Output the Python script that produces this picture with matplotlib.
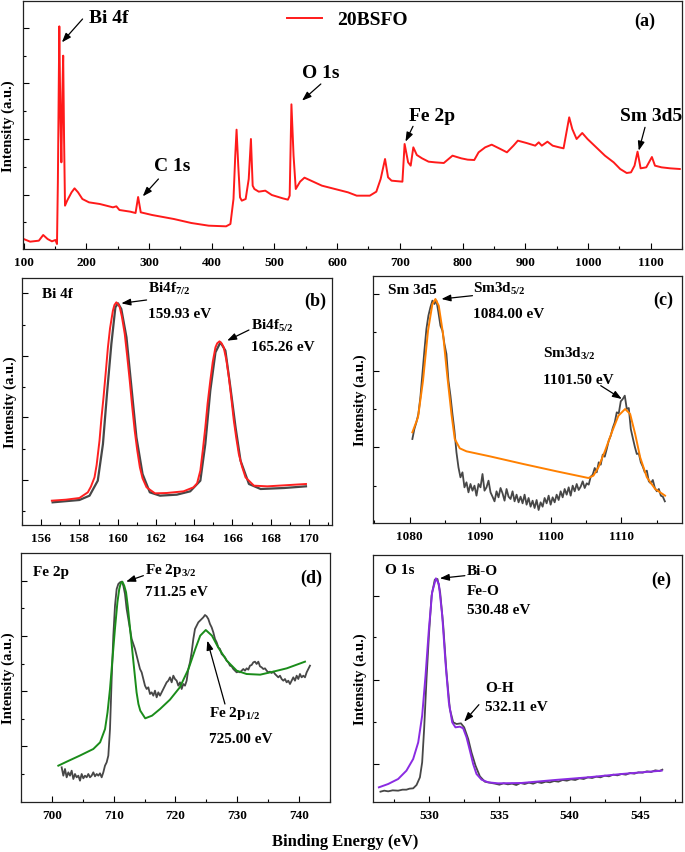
import numpy as np
import matplotlib
matplotlib.use('Agg')
import matplotlib.pyplot as plt
from matplotlib.ticker import MultipleLocator

plt.rcParams['font.family'] = ['Liberation Serif', 'DejaVu Serif']
plt.rcParams['font.weight'] = 'bold'
plt.rcParams['axes.labelweight'] = 'bold'
plt.rcParams['mathtext.fontset'] = 'custom'
plt.rcParams['mathtext.rm'] = 'Liberation Serif:bold'
plt.rcParams['mathtext.it'] = 'Liberation Serif:bold:italic'
plt.rcParams['mathtext.bf'] = 'Liberation Serif:bold'

# ---------------- data ----------------
# (a) survey spectrum
survey_energy = [100.0, 110.4, 124.3, 131.2, 138.2, 145.1, 150.7, 153.2, 154.6, 156.9,
                 158.6, 160.2, 161.8, 163.1, 164.5, 166.0, 169.4, 176.4, 181.2, 186.8,
                 193.7, 204.2, 221.5, 242.4, 247.9, 252.8, 270.1, 278.5, 282.6, 286.8,
                 304.9, 339.6, 367.4, 395.1, 422.9, 429.8, 434.7, 437.5, 439.6, 442.3,
                 445.1, 447.9, 454.1, 459.0, 462.5, 465.3, 468.0, 475.0, 485.4, 495.8,
                 513.2, 521.5, 524.3, 527.1, 530.5, 534.0, 540.9, 547.9, 561.8, 575.7,
                 596.5, 617.3, 631.2, 652.1, 662.5, 669.4, 676.4, 681.2, 686.8, 704.1,
                 707.6, 713.2, 717.3, 721.5, 727.1, 735.4, 745.8, 756.2, 770.1, 784.0,
                 797.9, 808.3, 818.7, 825.6, 836.1, 846.5, 860.4, 870.8, 881.2, 888.2,
                 902.0, 915.9, 921.5, 926.4, 935.4, 943.7, 954.1, 961.1, 966.7, 970.1,
                 975.0, 981.9, 990.9, 999.3, 1013.2, 1027.1, 1041.0, 1051.4, 1061.8, 1068.7,
                 1074.3, 1079.1, 1084.0, 1093.0, 1102.0, 1106.9, 1117.3, 1131.2, 1146.5]
survey_intensity = [30, 22, 25, 42, 30, 23, 27, 15, 200, 668,
                    400, 260, 470, 580, 330, 130, 145, 170, 182, 170,
                    150, 140, 135, 125, 128, 117, 112, 108, 156, 110,
                    102, 90, 78, 70, 68, 75, 150, 280, 358, 250,
                    155, 145, 150, 210, 330, 190, 180, 172, 175, 162,
                    152, 148, 160, 434, 280, 180, 202, 214, 202, 190,
                    180, 170, 160, 160, 172, 210, 270, 215, 205, 202,
                    315, 260, 250, 305, 282, 272, 262, 260, 258, 280,
                    272, 268, 267, 290, 305, 313, 300, 290, 310, 325,
                    318, 310, 320, 310, 322, 310, 305, 302, 360, 395,
                    360, 330, 348, 330, 305, 280, 260, 240, 228, 230,
                    250, 292, 242, 245, 276, 250, 245, 242, 240]

# (b) Bi 4f
bi_fit_energy = [156.56, 157.30, 158.00, 158.44, 158.60, 158.79, 158.90, 159.05, 159.15, 159.26,
                 159.38, 159.49, 159.60, 159.75, 159.83, 159.93, 160.02, 160.11, 160.22, 160.37,
                 160.50, 160.63, 160.75, 160.89, 161.02, 161.16, 161.30, 161.51, 161.95, 162.56,
                 163.44, 163.96, 164.15, 164.32, 164.45, 164.58, 164.70, 164.84, 164.97, 165.11,
                 165.20, 165.32, 165.43, 165.54, 165.68, 165.81, 165.94, 166.07, 166.20, 166.33,
                 166.50, 166.68, 167.12, 167.82, 168.70, 169.84]
bi_fit_intensity = [73, 76, 81, 98, 115, 143, 180, 253, 320, 383,
                    460, 533, 590, 643, 660, 668, 663, 653, 625, 573,
                    505, 433, 360, 283, 225, 173, 140, 113, 95, 96,
                    101, 113, 125, 163, 225, 293, 365, 433, 490, 533,
                    545, 551, 545, 533, 495, 443, 380, 313, 260, 213,
                    175, 143, 118, 116, 119, 123]
bi_exp_energy = [156.60, 158.00, 158.53, 158.96, 159.23, 159.44, 159.67, 159.88, 160.02, 160.19,
                 160.46, 160.72, 160.98, 161.30, 161.68, 162.21, 163.09, 163.79, 164.32, 164.58,
                 164.84, 165.11, 165.37, 165.63, 165.89, 166.16, 166.42, 166.86, 167.47, 168.70,
                 169.84]
bi_exp_intensity = [68, 75, 88, 133, 243, 393, 543, 653, 665, 648,
                    563, 413, 263, 153, 98, 88, 91, 101, 133, 243,
                    403, 518, 548, 523, 413, 293, 193, 123, 108, 111,
                    116]

# (c) Sm 3d
sm_fit_energy = [1080.38, 1081.18, 1081.89, 1082.60, 1083.22, 1083.65, 1084.12, 1084.73, 1085.30, 1085.92,
                 1086.39, 1087.10, 1088.05, 1091.36, 1096.10, 1100.83, 1105.33, 1106.04, 1106.75, 1107.70,
                 1108.65, 1109.59, 1110.54, 1111.25, 1111.96, 1112.67, 1113.62, 1114.80, 1116.20]
sm_fit_intensity = [272, 317, 427, 577, 657, 672, 652, 567, 447, 327,
                    252, 224, 215, 200, 177, 155, 135, 142, 167, 217,
                    272, 322, 342, 327, 267, 197, 137, 102, 82]
sm_exp_range = (1080.38, 1116.17)
sm_exp_intensity = [252, 282, 302, 327, 377, 447, 517, 582, 622, 647,
                    667, 657, 667, 632, 592, 577, 537, 507, 427, 382,
                    327, 277, 212, 167, 137, 152, 107, 122, 92, 117,
                    97, 112, 82, 117, 107, 147, 97, 107, 127, 92,
                    79, 65, 95, 77, 105, 89, 67, 102, 79, 72,
                    95, 65, 85, 62, 79, 59, 85, 55, 75, 49,
                    67, 45, 69, 39, 62, 49, 75, 59, 82, 55,
                    77, 62, 85, 69, 95, 77, 102, 85, 107, 82,
                    112, 95, 117, 99, 109, 125, 105, 119, 115, 139,
                    145, 165, 152, 182, 175, 205, 199, 222, 247, 262,
                    285, 302, 332, 329, 365, 372, 382, 342, 345, 282,
                    255, 229, 207, 209, 182, 169, 152, 157, 125, 119,
                    129, 105, 95, 102, 82, 79, 65]

# (d) Fe 2p
fe_fit_energy = [701.04, 702.40, 704.50, 706.70, 707.80, 708.60, 709.00, 709.40, 709.80, 710.20,
                 710.60, 710.90, 711.15, 711.40, 711.70, 712.00, 712.30, 712.60, 712.90, 713.20,
                 713.45, 713.70, 714.00, 714.30, 715.10, 716.20, 717.50, 719.10, 720.70, 722.10,
                 723.20, 724.00, 724.90, 725.90, 726.90, 728.30, 729.90, 731.50, 733.70, 735.80,
                 738.00, 740.95]
fe_fit_intensity = [109, 121, 139, 159, 179, 219, 269, 339, 429, 519,
                    599, 639, 657, 661, 649, 629, 584, 529, 474, 419,
                    374, 329, 294, 274, 251, 259, 279, 307, 344, 399,
                    459, 499, 516, 499, 464, 424, 394, 384, 382, 391,
                    401, 421]
fe_exp_range = (701.58, 741.76)
fe_exp_intensity = [104, 79, 99, 74, 89, 79, 94, 69, 84, 74,
                    79, 64, 84, 71, 79, 74, 84, 74, 79, 89,
                    77, 84, 79, 86, 74, 89, 109, 119, 139, 219,
                    369, 499, 589, 639, 654, 659, 661, 649, 624, 579,
                    549, 519, 489, 474, 459, 439, 419, 399, 389, 369,
                    349, 339, 344, 324, 329, 319, 334, 314, 329, 319,
                    329, 339, 349, 359, 364, 374, 359, 379, 369, 364,
                    349, 359, 339, 354, 349, 364, 399, 419, 449, 489,
                    519, 529, 539, 544, 549, 554, 561, 557, 549, 534,
                    524, 509, 489, 479, 464, 459, 444, 439, 434, 424,
                    419, 409, 407, 399, 394, 389, 391, 389, 394, 399,
                    394, 401, 397, 409, 411, 419, 421, 414, 421, 407,
                    404, 399, 401, 394, 389, 391, 387, 391, 384, 379,
                    374, 379, 369, 364, 369, 359, 364, 354, 364, 374,
                    364, 379, 369, 384, 374, 379, 374, 389, 399, 409]

# (e) O 1s
o_fit_energy = [526.42, 527.08, 527.79, 528.38, 528.86, 529.22, 529.50, 529.74, 529.98, 530.21,
                530.48, 530.69, 530.93, 531.16, 531.40, 531.64, 531.87, 532.19, 532.42, 532.66,
                532.90, 533.13, 533.37, 533.73, 534.20, 534.91, 536.57, 538.95, 541.32, 543.70,
                546.55]
o_fit_intensity = [44, 54, 69, 94, 129, 179, 259, 379, 519, 629,
                   671, 654, 559, 419, 299, 239, 224, 226, 221, 194,
                   154, 114, 84, 67, 59, 56, 57, 66, 74, 84,
                   94]
o_exp_energy = [526.53, 526.80, 527.08, 527.40, 527.79, 528.10, 528.38, 528.60, 528.86, 529.10,
                529.34, 529.50, 529.64, 529.81, 529.98, 530.17, 530.40, 530.59, 530.78, 531.00,
                531.23, 531.47, 531.71, 531.95, 532.26, 532.49, 532.78, 533.01, 533.30, 533.61,
                533.96, 534.44, 534.70, 535.00, 535.30, 535.60, 535.90, 536.20, 536.50, 536.80,
                537.10, 537.40, 537.70, 538.00, 538.30, 538.60, 538.90, 539.20, 539.50, 539.80,
                540.10, 540.40, 540.70, 541.00, 541.30, 541.60, 541.90, 542.20, 542.50, 542.80,
                543.10, 543.40, 543.70, 544.00, 544.30, 544.60, 544.90, 545.20, 545.50, 545.80,
                546.10, 546.40, 546.60]
o_exp_intensity = [31, 34, 32, 35, 34, 37, 37, 40, 41, 51,
                   74, 119, 219, 369, 499, 619, 667, 669, 629, 529,
                   389, 279, 239, 234, 236, 224, 189, 149, 109, 77,
                   61, 57, 55, 52, 56, 53, 55, 51, 57, 54,
                   58, 55, 60, 57, 61, 59, 63, 61, 66, 64,
                   68, 66, 71, 69, 74, 72, 76, 74, 79, 77,
                   82, 80, 84, 82, 87, 85, 89, 88, 92, 90,
                   95, 93, 97]

# ---------------- figure ----------------
W, H = 685, 853
fig = plt.figure(figsize=(W / 100, H / 100), dpi=100)


def box(l, t, r, b):
    return fig.add_axes([l / W, 1 - b / H, (r - l) / W, (b - t) / H])


def style(ax, xmaj, xmin, ymaj, ymin, labx):
    ax.xaxis.set_major_locator(MultipleLocator(xmaj))
    ax.xaxis.set_minor_locator(MultipleLocator(xmin))
    ax.set_yticks(ymaj)
    ax.set_yticks(ymin, minor=True)
    ax.set_yticklabels([])
    ax.tick_params(which='both', direction='in', top=False, right=False)
    ax.tick_params(which='major', length=4, width=0.8, labelsize=9.5, pad=5)
    ax.tick_params(which='minor', length=2.5, width=0.8)
    for lab in ax.get_xticklabels():
        lab.set_fontweight('bold')
    for s in ax.spines.values():
        s.set_linewidth(0.9)
        s.set_color('#222222')
    ax.set_ylabel('Intensity (a.u.)', fontsize=10.5, fontweight='bold')
    ax.yaxis.set_label_coords(labx, 0.5)


APROPS = dict(arrowstyle='-|>,head_length=0.55,head_width=0.2', color='black',
              lw=0.9, shrinkA=0, shrinkB=0)


def arrow(ax, xy, xytext):
    ax.annotate('', xy=xy, xytext=xytext, arrowprops=APROPS)


GRAY = '#474747'

# (a)
ax = box(23, 2, 682, 250)
ax.plot(survey_energy, survey_intensity, color='#ff1a1a', lw=1.4, label='20BSFO')
ax.set_xlim(99, 1150)
ax.set_ylim(0, 744)
style(ax, 100, 50, [662, 497, 330, 163], [580, 413, 245, 80], -0.012)
ax.legend(loc='upper center', bbox_to_anchor=(0.492, 1.0), frameon=False,
          prop={'weight': 'bold', 'size': 14}, handlelength=1.8, borderaxespad=0.1)
ta = dict(fontsize=14, ha='left', va='center')
ax.text(204, 695, 'Bi 4f', **ta)
arrow(ax, (161, 620), (194, 690))
ax.text(308, 250, 'C 1s', **ta)
arrow(ax, (290, 158), (315, 210))
ax.text(544, 528, 'O 1s', **ta)
arrow(ax, (544, 445), (574, 495))
ax.text(714, 400, 'Fe 2p', **ta)
arrow(ax, (709, 322), (721, 368))
ax.text(1051, 400, 'Sm 3d5', **ta)
arrow(ax, (1081, 295), (1091, 365))
ax.text(1090, 685, '(a)', fontsize=13, ha='center', va='center')

tb = dict(fontsize=11, ha='left', va='center')

# (b)
ax = box(22, 279, 332, 526)
ax.plot(bi_exp_energy, bi_exp_intensity, color=GRAY, lw=1.6)
ax.plot(bi_fit_energy, bi_fit_intensity, color='#ff2020', lw=1.4)
ax.set_xlim(155, 171.2)
ax.set_ylim(0, 741)
style(ax, 2, 1, [695, 508, 323, 135], [600, 415, 228, 43], -0.017)
ax.text(156.07, 695, 'Bi 4f', **tb)
ax.text(161.6, 710, 'Bi4f$_{7/2}$', **tb)
ax.text(161.6, 635, '159.93 eV', **tb)
arrow(ax, (160.19, 665), (161.51, 675))
ax.text(166.98, 600, 'Bi4f$_{5/2}$', **tb)
ax.text(166.98, 535, '165.26 eV', **tb)
arrow(ax, (165.72, 553), (166.86, 585))
ax.text(170.3, 673, '(b)', fontsize=13, ha='center', va='center')

# (c)
ax = box(373, 277, 682, 524)
ax.plot(np.linspace(*sm_exp_range, len(sm_exp_intensity)), sm_exp_intensity, color=GRAY, lw=1.3)
ax.plot(sm_fit_energy, sm_fit_intensity, color='#ff8000', lw=1.4)
ax.set_xlim(1074.8, 1118.6)
ax.set_ylim(0, 741)
style(ax, 10, 5, [687, 457, 227], [572, 342, 112], -0.019)
ax.text(1076.9, 699, 'Sm 3d5', **tb)
ax.text(1089.0, 705, 'Sm3d$_{5/2}$', **tb)
ax.text(1089.0, 629, '1084.00 eV', **tb)
arrow(ax, (1084.5, 672), (1088.9, 682))
ax.text(1098.9, 510, 'Sm3d$_{3/2}$', **tb)
ax.text(1098.9, 432, '1101.50 eV', **tb)
arrow(ax, (1110.07, 372), (1107.08, 412))
ax.text(1116.0, 672, '(c)', fontsize=13, ha='center', va='center')

# (d)
ax = box(21, 554, 330, 803)
ax.plot(np.linspace(*fe_exp_range, len(fe_exp_intensity)), fe_exp_intensity, color=GRAY, lw=1.3)
ax.plot(fe_fit_energy, fe_fit_intensity, color='#1a8c1a', lw=1.4)
ax.set_xlim(695, 745)
ax.set_ylim(0, 747)
style(ax, 10, 5, [664, 499, 332, 167], [581, 414, 249, 83], -0.019)
ax.text(697.0, 691, 'Fe 2p', **tb)
ax.text(715.06, 697, 'Fe 2p$_{3/2}$', **tb)
ax.text(715.06, 631, '711.25 eV', **tb)
arrow(ax, (712.0, 661), (714.8, 679))
ax.text(725.47, 267, 'Fe 2p$_{1/2}$', **tb)
ax.text(725.47, 191, '725.00 eV', **tb)
arrow(ax, (725.15, 484), (728.0, 294))
ax.text(741.9, 674, '(d)', fontsize=13, ha='center', va='center')

# (e)
ax = box(373, 556, 682, 803)
ax.plot(o_exp_energy, o_exp_intensity, color=GRAY, lw=1.3)
ax.plot(o_fit_energy, o_fit_intensity, color='#8a2be2', lw=1.4)
ax.set_xlim(526, 548)
ax.set_ylim(0, 741)
style(ax, 5, 2.5, [619, 367, 114], [494, 239], -0.019)
ax.text(526.84, 697, 'O 1s', **tb)
ax.text(532.66, 694, 'Bi-O', **tb)
ax.text(532.66, 634, 'Fe-O', **tb)
ax.text(532.66, 576, '530.48 eV', **tb)
arrow(ax, (530.76, 671), (532.54, 679))
ax.text(533.97, 344, 'O-H', **tb)
ax.text(533.97, 286, '532.11 eV', **tb)
arrow(ax, (532.49, 241), (533.54, 292))
ax.text(546.5, 669, '(e)', fontsize=13, ha='center', va='center')

fig.text(345 / W, 1 - 842 / H, 'Binding Energy (eV)', fontsize=12, fontweight='bold',
         ha='center', va='center')

fig.savefig('out.png', dpi=100)
